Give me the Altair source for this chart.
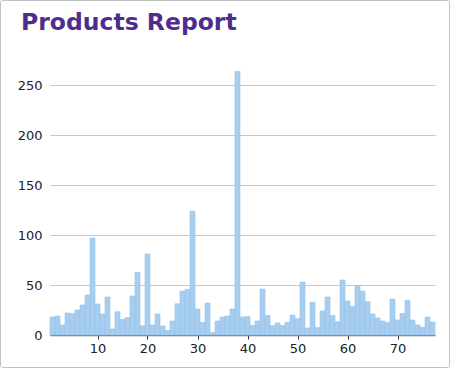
import altair as alt
import pandas as pd

product_ids = list(range(1, 78))
unit_prices = [18, 19, 10, 22, 21.35, 25, 30, 40, 97, 31,
               21, 38, 6, 23.25, 15.5, 17.45, 39, 62.5, 9.2, 81,
               10, 21, 9, 4.5, 14, 31.23, 43.9, 45.6, 123.79, 25.89,
               12.5, 32, 2.5, 14, 18, 19, 26, 263.5, 18, 18.4,
               9.65, 14, 46, 19.45, 9.5, 12, 9.5, 12.75, 20, 16.25,
               53, 7, 32.8, 7.45, 24, 38, 19.5, 13.25, 55, 34,
               28.5, 49.3, 43.9, 33.25, 21.05, 17, 14, 12.5, 36, 15,
               21.5, 34.8, 15, 10, 7.75, 18, 13]
x_ticks = [10, 20, 30, 40, 50, 60, 70]
y_ticks = [0, 50, 100, 150, 200, 250]
title_text = ["Products Report"]

df = pd.DataFrame({"id": product_ids, "price": unit_prices})
df["x0"] = df["id"] - 0.5
df["x1"] = df["id"] + 0.5

W, H = 385, 275
LEFT, TOP = 50, 60

bars = alt.Chart(df).mark_rect(
    fill="#a7ceef", stroke="#96c3ea", strokeWidth=0.6
).encode(
    x=alt.X("x0:Q", scale=alt.Scale(domain=[0.5, 77.5], nice=False, zero=False),
            axis=alt.Axis(values=x_ticks, title=None, grid=False, domainColor="#687c90",
                          domainWidth=1.5, tickColor="#333333", tickSize=4, labelPadding=3,
                          labelFont="DejaVu Sans", labelFontSize=13, labelColor="#222222")),
    x2="x1:Q",
    y=alt.Y("price:Q", scale=alt.Scale(domain=[0, 275], nice=False),
            axis=alt.Axis(values=y_ticks, title=None, grid=True, gridColor="#c8c8c8",
                          domain=False, ticks=False, labelPadding=8,
                          labelFont="DejaVu Sans", labelFontSize=13, labelColor="#222222")),
    y2=alt.datum(0),
)

border = alt.Chart(pd.DataFrame({"a": [0]})).mark_rect(
    fill=None, stroke="#c0c0c0", strokeWidth=1, cornerRadius=2
).encode(
    x=alt.value(-LEFT + 0.5), x2=alt.value(450 - LEFT - 0.5),
    y=alt.value(-TOP + 0.5), y2=alt.value(368 - TOP - 0.5),
)

title = alt.Chart(pd.DataFrame({"t": title_text})).mark_text(
    align="left", baseline="alphabetic", font="DejaVu Sans", fontWeight="bold",
    fontSize=23.5, color="#4f2d8e"
).encode(
    text="t:N", x=alt.value(21 - LEFT), y=alt.value(30 - TOP)
)

chart = alt.layer(bars, border, title).properties(
    width=W, height=H,
    autosize=alt.AutoSizeParams(type="none"),
    padding={"left": LEFT, "top": TOP, "right": 450 - LEFT - W, "bottom": 368 - TOP - H},
    background="white",
).configure_view(stroke=None)

chart.save("out.html", embed_options={"renderer": "svg", "actions": False})
